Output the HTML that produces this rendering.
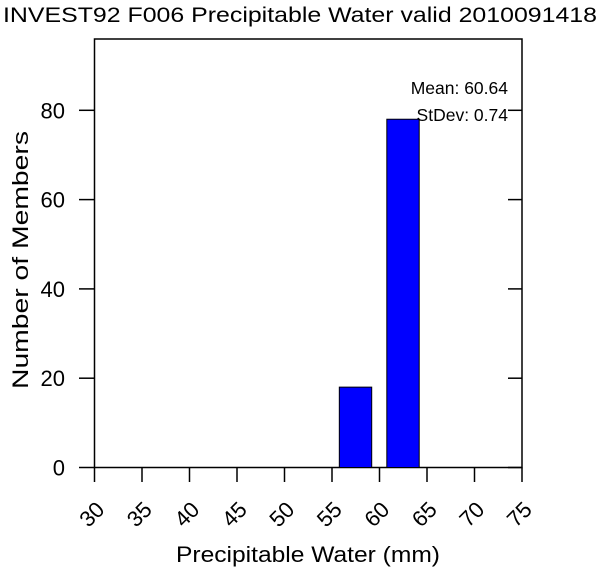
<!DOCTYPE html>
<html><head><meta charset="utf-8"><style>
body{margin:0;background:#fff}
svg text{font-family:"Liberation Sans",Arial,sans-serif;fill:#000}
</style></head><body>
<svg width="600" height="570" viewBox="0 0 600 570" xmlns="http://www.w3.org/2000/svg">
<text x="300" y="22" font-size="21" text-anchor="middle" textLength="594" lengthAdjust="spacingAndGlyphs">INVEST92 F006 Precipitable Water valid 2010091418</text>
<rect x="94.5" y="39" width="427.5" height="428.5" fill="none" stroke="#000" stroke-width="1.5"/>
<g id="bars"></g>
<g id="axes"></g>
<text x="508" y="94" font-size="17.5" text-anchor="end">Mean: 60.64</text>
<text x="508" y="121" font-size="17.5" text-anchor="end">StDev: 0.74</text>
<text x="308" y="562" font-size="22" text-anchor="middle" textLength="264" lengthAdjust="spacingAndGlyphs">Precipitable Water (mm)</text>
<text transform="translate(28,260) rotate(-90)" font-size="22" text-anchor="middle" textLength="258" lengthAdjust="spacingAndGlyphs">Number of Members</text>
</svg>
<script>
const binStarts=[55,60];
const counts=[18,78];
const xTicks=[30,35,40,45,50,55,60,65,70,75];
const yTicks=[0,20,40,60,80];
const NS="http://www.w3.org/2000/svg";
const X=v=>94.5+(v-30)*9.5;
const Y=v=>467.5-v*4.465;
const bars=document.getElementById('bars'),axes=document.getElementById('axes');
function mk(tag,attrs,parent){const e=document.createElementNS(NS,tag);for(const k in attrs)e.setAttribute(k,attrs[k]);parent.appendChild(e);return e;}
binStarts.forEach((b,i)=>{
 const r=mk('rect',{x:X(b+0.77),y:Y(counts[i]),width:X(b+4.18)-X(b+0.77),height:Y(0)-Y(counts[i]),fill:'#0000ff',stroke:'#000','stroke-width':1},bars);
 
 
});
xTicks.forEach(t=>{
 const l=mk('line',{x1:X(t),x2:X(t),y1:467.5,y2:482,stroke:'#000','stroke-width':1.5},axes);
 
 
 const tx=mk('text',{'font-size':22,'text-anchor':'middle',transform:`translate(${X(t)-3},${514}) rotate(-45)`,dy:8},axes);
 tx.textContent=t;
 
 
});
yTicks.forEach(t=>{
 const l=mk('line',{x1:79,x2:94.5,y1:Y(t),y2:Y(t),stroke:'#000','stroke-width':1.5},axes);
 
 
 const r=mk('line',{x1:508,x2:522,y1:Y(t),y2:Y(t),stroke:'#000','stroke-width':1.5},axes);
 
 
 const tx=mk('text',{x:65,y:Y(t)+8,'font-size':22,'text-anchor':'end'},axes);
 tx.textContent=t;
 
 
});
</script>
</body></html>
